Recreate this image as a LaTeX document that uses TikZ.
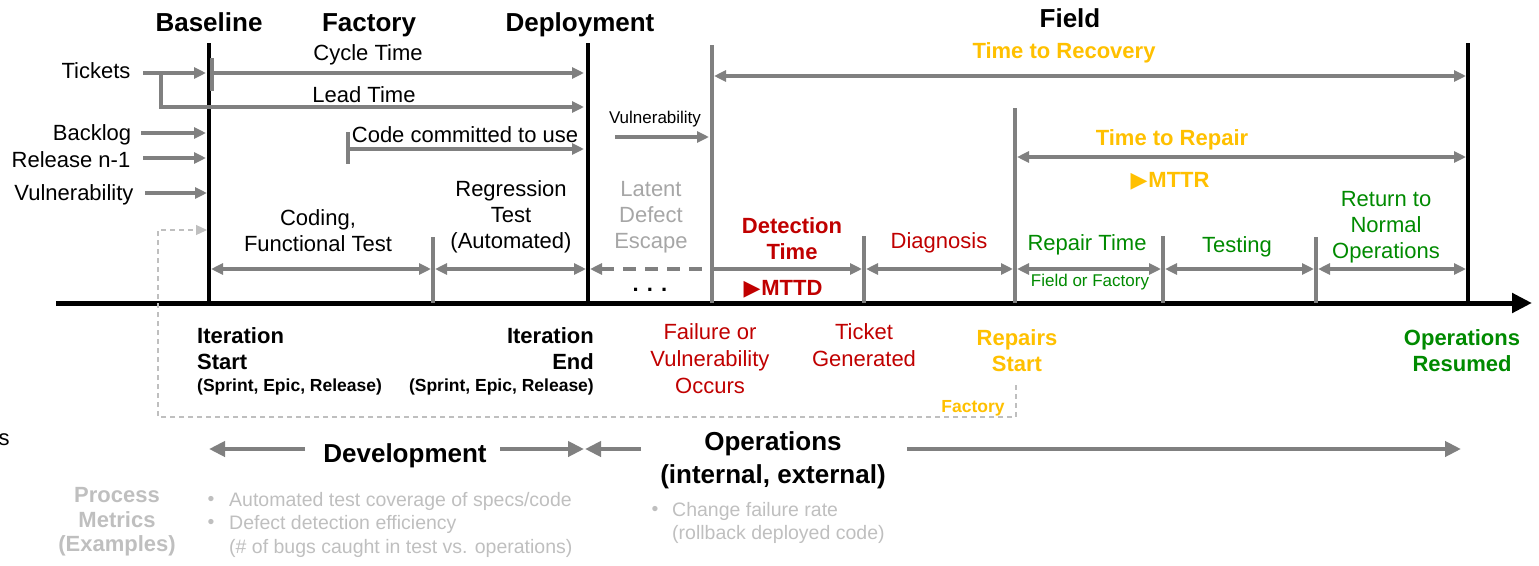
\documentclass[tikz,border=0pt]{standalone}
\usepackage{fontspec}
\setmainfont{Liberation Sans}
\newfontfamily\symfont{DejaVu Sans}
\usetikzlibrary{arrows.meta}
\definecolor{gline}{HTML}{808080}
\definecolor{lgray}{HTML}{BFBFBF}
\definecolor{mgray}{HTML}{A6A6A6}
\definecolor{cred}{HTML}{C00000}
\definecolor{corange}{HTML}{FFC000}
\definecolor{cgreen}{HTML}{008A00}
\newcommand{\tri}{{\symfont\char"25B6}\kern1pt}
\tikzset{
  mtxt/.style={inner sep=0pt, font=\fontsize{22}{26}\selectfont, align=center},
  mbld/.style={inner sep=0pt, font=\fontsize{22}{26}\selectfont\bfseries, align=center},
  mhdr/.style={inner sep=0pt, font=\fontsize{26}{33}\selectfont\bfseries, align=center},
  txt/.style={inner sep=0pt, font=\fontsize{22}{26}\selectfont, text height=16pt, text depth=0pt},
  hdr/.style={inner sep=0pt, font=\fontsize{26}{33}\selectfont\bfseries, text height=19pt, text depth=0pt},
  bld/.style={inner sep=0pt, font=\fontsize{22}{26}\selectfont\bfseries, text height=16pt, text depth=0pt},
  sml/.style={inner sep=0pt, font=\fontsize{17}{20}\selectfont, text height=12.3pt, text depth=0pt},
  smlb/.style={inner sep=0pt, font=\fontsize{17.5}{20}\selectfont\bfseries, text height=12.6pt, text depth=0pt},
  blt/.style={inner sep=0pt, font=\fontsize{19.5}{23}\selectfont, text=lgray, text height=14pt, text depth=0pt},
  blkline/.style={draw=black, line width=4.3pt},
  gvline/.style={draw=gline, line width=3.5pt},
  tip/.tip={Triangle[length=12pt,width=11pt]},
  garr/.style={draw=gline, line width=3.5pt, -tip},
  gdarr/.style={draw=gline, line width=3.5pt, tip-tip},
  bigtip/.tip={Triangle[length=16pt,width=15pt]},
  barr/.style={draw=gline, line width=4.5pt, -bigtip},
}
\begin{document}
\begin{tikzpicture}[x=1pt,y=-1pt]
\useasboundingbox (0,0) rectangle (1539,565);
% ---------- coordinates ----------
\coordinate (axS) at (56,303); \coordinate (axE) at (1532,303);
\coordinate (bT) at (209,43); \coordinate (bB) at (209,303);
\coordinate (dT) at (588,43); \coordinate (dB) at (588,303);
\coordinate (fT) at (712,45); \coordinate (fB) at (712,303);
\coordinate (rT) at (1468,43); \coordinate (rB) at (1468,303);
\coordinate (pT) at (1015,108); \coordinate (pB) at (1015,303);
\coordinate (t1T) at (433,237); \coordinate (t1B) at (433,303);
\coordinate (t2T) at (864,236); \coordinate (t2B) at (864,303);
\coordinate (t3T) at (1163,236); \coordinate (t3B) at (1163,303);
\coordinate (t4T) at (1316,237); \coordinate (t4B) at (1316,303);
\coordinate (cyT) at (212,58); \coordinate (cyB) at (212,91);
\coordinate (ccT) at (348,132); \coordinate (ccB) at (348,164);
% ---------- axis & verticals ----------
\draw[line width=5pt, -{Triangle[length=20pt,width=19pt]}] (axS) -- (axE);
\draw[blkline] (bT) -- (bB);
\draw[blkline] (dT) -- (dB);
\draw[blkline] (rT) -- (rB);
\draw[gvline] (fT) -- (fB);
\draw[gvline] (pT) -- (pB);
\draw[gvline] (t1T) -- (t1B);
\draw[gvline] (t2T) -- (t2B);
\draw[gvline] (t3T) -- (t3B);
\draw[gvline] (t4T) -- (t4B);
\draw[gvline] (cyT) -- (cyB);
\draw[gvline] (ccT) -- (ccB);
% ---------- header texts ----------
\node[hdr] (hBase) at (209,22) {Baseline};
\node[hdr] (hFact) at (369,22) {Factory};
\node[hdr] (hDep) at (580,22) {Deployment};
\node[hdr] (hField) at (1070,18) {Field};
% ---------- left inputs ----------
\node[txt] (tick) at (96,70) {Tickets};
\node[txt] (back) at (92,132) {Backlog};
\node[txt] (rel) at (71,159) {Release n-1};
\node[txt] (vul) at (74,192) {Vulnerability};
\coordinate (tickS) at (143,73); \coordinate (tickE) at (206,73);
\coordinate (brA) at (161,73); \coordinate (brB) at (161,107); \coordinate (leadE) at (584,107);
\coordinate (cycE) at (584,73);
\coordinate (backS) at (141,133); \coordinate (backE) at (206,133);
\coordinate (relS) at (143,158); \coordinate (relE) at (206,158);
\coordinate (vulS) at (145,193); \coordinate (vulE) at (207,193);
\draw[garr] (tickS) -- (tickE);
\draw[garr] (brA) -- (brB) -- (leadE);
\draw[garr] (212,73) coordinate (cycS) -- (cycE);
\draw[garr] (backS) -- (backE);
\draw[garr] (relS) -- (relE);
\draw[garr] (vulS) -- (vulE);
\node[txt] (cyc) at (368,52) {Cycle Time};
\node[txt] (lead) at (364,94) {Lead Time};
\node[txt] (code) at (465,134) {Code committed to use};
\coordinate (ccS) at (348,149); \coordinate (ccE) at (584,149);
\draw[garr] (ccS) -- (ccE);
% ---------- dashed feedback ----------
\coordinate (fbA) at (1016,385); \coordinate (fbB) at (1016,417);
\coordinate (fbC) at (158,417); \coordinate (fbD) at (158,230); \coordinate (fbE) at (207,230);
\draw[draw=lgray, line width=1.2pt, dash pattern=on 5pt off 4pt, -{Triangle[length=11pt,width=10pt]}, color=lgray]
  (fbA) -- (fbB) -- (fbC) -- (fbD) -- (fbE);
\node[smlb, text=corange] (fac) at (973,406) {Factory};
% ---------- middle ----------
\node[sml] (vul2) at (655,117) {Vulnerability};
\coordinate (v2S) at (615,137); \coordinate (v2E) at (709,137);
\draw[garr] (v2S) -- (v2E);
\coordinate (trS) at (714,76); \coordinate (trE) at (1466,76);
\draw[gdarr] (trS) -- (trE);
\node[bld, text=corange] (ttr) at (1064,50) {Time to Recovery};
\coordinate (tpS) at (1017,157); \coordinate (tpE) at (1466,157);
\draw[gdarr] (tpS) -- (tpE);
\node[bld, text=corange] (ttp) at (1172,137) {Time to Repair};
\node[bld, text=corange] (mttr) at (1170,179) {\tri MTTR};
% ---------- phase row ----------
\coordinate (r0) at (211,269); \coordinate (r1a) at (431,269); \coordinate (r1b) at (435,269);
\coordinate (r2a) at (586,269); \coordinate (r2b) at (590,269); \coordinate (r3) at (706,269);
\coordinate (r4) at (714,269); \coordinate (r5a) at (862,269); \coordinate (r5b) at (866,269);
\coordinate (r6a) at (1013,269); \coordinate (r6b) at (1017,269);
\coordinate (r7a) at (1161,269); \coordinate (r7b) at (1165,269);
\coordinate (r8a) at (1314,269); \coordinate (r8b) at (1318,269); \coordinate (r9) at (1466,269);
\draw[gdarr] (r0) -- (r1a);
\draw[gdarr] (r1b) -- (r2a);
\draw[draw=gline, line width=3.5pt, tip-, dash pattern=on 13pt off 9pt] (r2b) -- (r3);
\draw[garr] (r4) -- (r5a);
\draw[gdarr] (r5b) -- (r6a);
\draw[gdarr] (r6b) -- (r7a);
\draw[gdarr] (r7b) -- (r8a);
\draw[gdarr] (r8b) -- (r9);
\node[mtxt] (cod) at (318,231) {Coding,\\Functional Test};
\node[mtxt] (reg) at (511,217) {Regression\\Test\\(Automated)};
\node[mtxt, text=mgray] (lat) at (651,217) {Latent\\Defect\\Escape};
\node[mbld, text=cred] (det) at (792,239) {Detection\\Time};
\node[bld, text=cred] (mttd) at (783,287) {\tri MTTD};
\node[bld] (dots) at (650,283) {. . .};
\node[txt, text=cred] (diag) at (939,240) {Diagnosis};
\node[txt, text=cgreen] (rep) at (1087,242) {Repair Time};
\node[sml, text=cgreen] (fof) at (1090,280) {Field or Factory};
\node[txt, text=cgreen] (tst) at (1237,244) {Testing};
\node[mtxt, text=cgreen] (ret) at (1386,227) {Return to\\Normal\\Operations};
% ---------- below axis ----------
\node[mbld, align=left, anchor=west] (itS) at (197,349) {Iteration\\Start};
\node[smlb, anchor=west] (itSs) at (197,385) {(Sprint, Epic, Release)};
\node[mbld, align=right, anchor=east] (itE) at (594,349) {Iteration\\End};
\node[smlb, anchor=east] (itEs) at (594,385) {(Sprint, Epic, Release)};
\node[mtxt, text=cred, font=\fontsize{22}{27}\selectfont] (fail) at (710,359) {Failure or\\Vulnerability\\Occurs};
\node[mtxt, text=cred, font=\fontsize{22}{27}\selectfont] (tg) at (864,345) {Ticket\\Generated};
\node[mbld, text=corange] (rs) at (1017,351) {Repairs\\Start};
\node[mbld, text=cgreen] (or) at (1462,351) {Operations\\Resumed};
\node[txt] (stray) at (4,437) {s};
% ---------- bottom ----------
\node[hdr] (dev) at (405,453) {Development};
\node[mhdr] (ops) at (773,460) {Operations\\(internal, external)};
\coordinate (dlS) at (305,449); \coordinate (dlE) at (209,449);
\coordinate (drS) at (500,449); \coordinate (drE) at (584,449);
\coordinate (olS) at (641,449); \coordinate (olE) at (585,449);
\coordinate (orS) at (907,449); \coordinate (orE) at (1461,449);
\draw[barr] (dlS) -- (dlE);
\draw[barr] (drS) -- (drE);
\draw[barr] (olS) -- (olE);
\draw[barr] (orS) -- (orE);
\node[mbld, text=lgray, font=\fontsize{22}{24.5}\selectfont\bfseries] (pm) at (117,522) {Process\\Metrics\\(Examples)};
\node[blt] (b1) at (211,498) {•};
\node[blt, anchor=west] (b1t) at (229,499) {Automated test coverage of specs/code};
\node[blt] (b2) at (211,521) {•};
\node[blt, anchor=west] (b2t) at (229,522) {Defect detection efficiency};
\node[blt, anchor=west] (b2u) at (229,546) {(\# of bugs caught in test vs. operations)};
\node[blt] (b3) at (655,508) {•};
\node[blt, anchor=west] (b3t) at (672,509) {Change failure rate};
\node[blt, anchor=west] (b3u) at (672,532) {(rollback deployed code)};
\end{tikzpicture}
\end{document}
